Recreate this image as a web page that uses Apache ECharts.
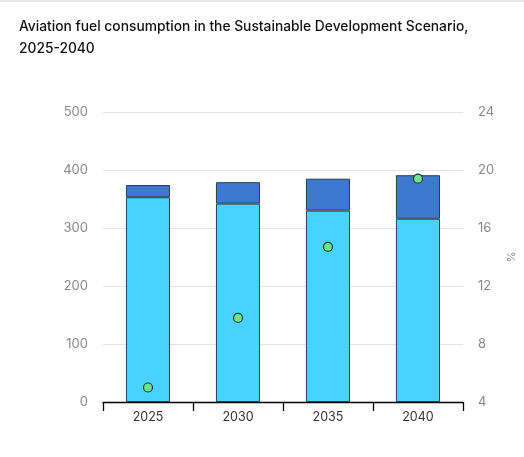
<!DOCTYPE html>
<html><head><meta charset="utf-8">
<script src="https://cdn.jsdelivr.net/npm/echarts@6/dist/echarts.min.js"></script>
<style>html,body{margin:0;padding:0;background:#fff}#c{width:524px;height:457px}</style>
</head><body><div id="c"></div>
<script>
const categories = ['2025','2030','2035','2040'];
const baseFuel = [353, 342, 330, 316];
const altFuel = [21, 37, 55, 75];
const shareValues = [5.0, 9.8, 14.7, 19.4];
const leftTicks = [0, 500, 100];
const rightTicks = [4, 24, 4];

const chart = echarts.init(document.getElementById('c'));
const font = 'Inter, "Noto Sans", sans-serif';
chart.setOption({
  animation: false,
  graphic: [{type:'rect', shape:{x:0,y:0,width:524,height:2}, style:{fill:'#e6e6e6'}}],
  title: {
    text: 'Aviation fuel consumption in the Sustainable Development Scenario,\n2025-2040',
    left: 19, top: 16, padding: 0,
    textStyle: {fontFamily: font, fontSize: 13.8, fontWeight: 500, color: '#111', lineHeight: 22}
  },
  grid: {left: 103, right: 61, top: 112, bottom: 55},
  xAxis: {
    type: 'category', data: categories,
    axisLine: {lineStyle: {color: '#000', width: 1.3}},
    axisTick: {show: true, length: 9, lineStyle: {color: '#000', width: 1.3}},
    axisLabel: {color: '#333', fontFamily: font, fontSize: 12.5, margin: 9}
  },
  yAxis: [{
    type: 'value', min: leftTicks[0], max: leftTicks[1], interval: leftTicks[2],
    axisLine: {show: false}, axisTick: {show: false},
    axisLabel: {color: '#888', fontFamily: font, fontSize: 13, margin: 15},
    splitLine: {lineStyle: {color: '#e3e3e3'}}
  }, {
    type: 'value', min: rightTicks[0], max: rightTicks[1], interval: rightTicks[2],
    position: 'right', name: '%', nameLocation: 'middle', nameGap: 38, nameRotate: -90,
    nameTextStyle: {color: '#888', fontFamily: font, fontSize: 11},
    axisLine: {show: false}, axisTick: {show: false},
    axisLabel: {color: '#888', fontFamily: font, fontSize: 13, margin: 15},
    splitLine: {show: false}
  }],
  series: [{
    type: 'bar', stack: 'a', data: baseFuel, barWidth: '49%',
    itemStyle: {color: '#48d3ff', borderColor: '#2b3a47', borderWidth: 1}
  }, {
    type: 'bar', stack: 'a', data: altFuel,
    itemStyle: {color: '#3d79d1', borderColor: '#2b3a47', borderWidth: 1}
  }, {
    type: 'scatter', yAxisIndex: 1, data: shareValues, symbolSize: 9,
    itemStyle: {color: '#6ee58d', borderColor: '#1f3a2c', borderWidth: 1.2, opacity: 1}
  }]
});
</script></body></html>
